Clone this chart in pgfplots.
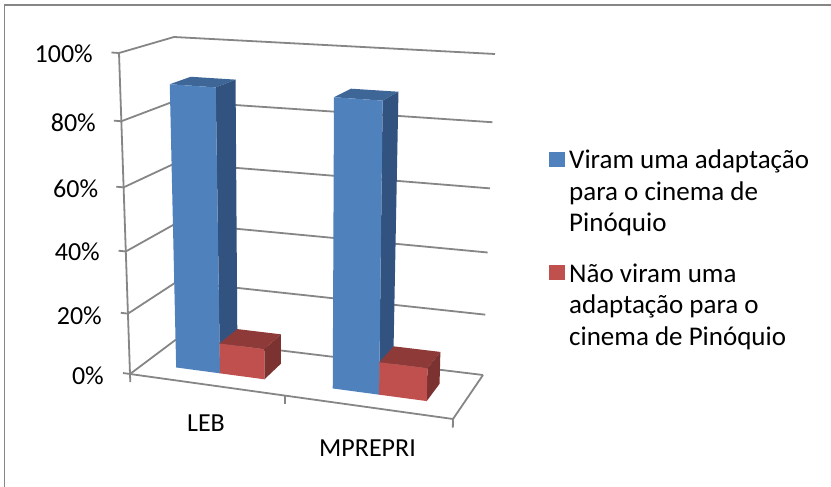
\documentclass[border=0pt]{standalone}
\usepackage{pgfplots}
\pgfplotsset{compat=1.18}
\usepackage{fontspec}
\setmainfont{Carlito}
\definecolor{bluefront}{HTML}{4F81BD}
\definecolor{blueside}{HTML}{325380}
\definecolor{bluetop}{HTML}{3E6797}
\definecolor{redfront}{HTML}{C0504D}
\definecolor{redside}{HTML}{7C3230}
\definecolor{redtop}{HTML}{8E3A38}
\definecolor{gridc}{HTML}{868686}
% s = position along the category axis (0..1), v = depth (0..1), w = value in %
\pgfplotsset{
  /pgf/declare function={
    ww(\w)=(\w/100)/(1.08-0.08*\w/100);
    bl(\s,\v,\a,\b,\c,\d)=(1-\s)*(1-\v)*\a+\s*(1-\v)*\b+(1-\s)*\v*\c+\s*\v*\d;
    px(\s,\v,\w)=(1-ww(\w))*bl(\s,\v,130,453,178,483)+ww(\w)*bl(\s,\v,119,460,174,495);
    py(\s,\v,\w)=(1-ww(\w))*bl(\s,\v,374,419,338,375)+ww(\w)*bl(\s,\v,53,75,37,54);
  },
  /pgfplots/table/box/.style={/pgfplots/table/row sep=\\,
    /pgfplots/table/x expr={px(\thisrow{s},\thisrow{v},\thisrow{w})},
    /pgfplots/table/y expr={py(\thisrow{s},\thisrow{v},\thisrow{w})}},
  wire/.style={draw=gridc,line width=1.8pt,line join=round,no markers,forget plot},
}
\newcommand{\barbox}[6]{% s0, s1, value, front, side, top
  \addplot[fill=#6,draw=none,forget plot] table[box] {s v w\\ #1 .3 #3\\ #2 .3 #3\\ #2 .7 #3\\ #1 .7 #3\\};
  \addplot[fill=#5,draw=none,forget plot] table[box] {s v w\\ #2 .3 0\\ #2 .7 0\\ #2 .7 #3\\ #2 .3 #3\\};
  \addplot[fill=#4,draw=none,forget plot] table[box] {s v w\\ #1 .3 0\\ #2 .3 0\\ #2 .3 #3\\ #1 .3 #3\\};
}
\newcommand{\wall}[1]{\addplot[wire] table[box] {s v w\\ -0.022 0 #1\\ 0 0 #1\\ 0 1 #1\\ 1 1 #1\\};}
\begin{document}
\begin{tikzpicture}[x=1pt,y=1pt]
\useasboundingbox (0,0) rectangle (831,487);
\begin{axis}[
  at={(0,0)},anchor=south west,
  scale only axis,width=831pt,height=487pt,
  xmin=0,xmax=831,ymin=0,ymax=487,y dir=reverse,
  hide axis,clip=false,
  legend style={at={(axis cs:549,148)},anchor=north west,draw=none,fill=none,inner sep=0pt,
    font=\fontsize{27}{31.5}\selectfont,
    cells={align=left,anchor=west},row sep=26pt},
  legend cell align=left,
]
\addlegendimage{legend image code/.code={\path[draw=none] (0pt,0pt) -- (18pt,0pt);\fill[bluefront,draw=none] (0pt,24.5pt) rectangle (15.5pt,39.5pt);}}
\addlegendentry{Viram uma adaptação\\para o cinema de\\Pinóquio}
\addlegendimage{legend image code/.code={\path[draw=none] (0pt,0pt) -- (18pt,0pt);\fill[redfront,draw=none] (0pt,24.5pt) rectangle (15.5pt,39.5pt);}}
\addlegendentry{Não viram uma\\adaptação para o\\cinema de Pinóquio}

\draw[gridc,line width=1.5pt] (axis cs:4.5,487) -- (axis cs:4.5,5) -- (axis cs:831,5);

\wall{0}
\wall{20}
\wall{40}
\wall{60}
\wall{80}
\wall{100}
\addplot[wire] table[box] {s v w\\ 0 0 0\\ 0 0 100\\};
\addplot[wire] table[box] {s v w\\ 0 0 -2.7\\ 0 0 0\\ 1 0 0\\ 1 1 0\\};
\addplot[wire] table[box] {s v w\\ 0.48 0 -2.7\\ 0.48 0 0\\};
\addplot[wire] table[box] {s v w\\ 1 0 -2.7\\ 1 0 0\\};

\barbox{.100}{.238}{90}{bluefront}{blueside}{bluetop}
\barbox{.238}{.378}{10}{redfront}{redside}{redtop}
\barbox{.593}{.739}{89.5}{bluefront}{blueside}{bluetop}
\barbox{.739}{.889}{10.5}{redfront}{redside}{redtop}

\begin{scope}[every node/.style={font=\fontsize{26}{28}\selectfont,inner sep=0pt}]
\node[anchor=base east] at (axis cs:93,62.7) {100\%};
\node[anchor=base east] at (axis cs:96,131.7) {80\%};
\node[anchor=base east] at (axis cs:98.3,197) {60\%};
\node[anchor=base east] at (axis cs:100,260.3) {40\%};
\node[anchor=base east] at (axis cs:102,324.3) {20\%};
\node[anchor=base east] at (axis cs:104,384.7) {0\%};
\node[anchor=base] at (axis cs:206,431) {LEB};
\node[anchor=base] at (axis cs:367.5,456) {MPREPRI};
\end{scope}
\end{axis}
\end{tikzpicture}
\end{document}
